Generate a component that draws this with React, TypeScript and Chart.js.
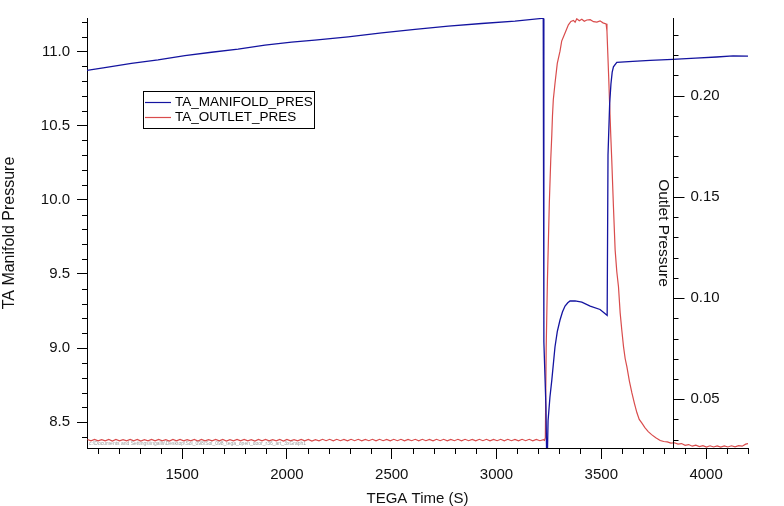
import React, { useEffect, useRef } from 'react';
import { Chart, registerables } from 'chart.js';

Chart.register(...registerables);

const FONT = '"Liberation Sans", Arial, Helvetica, sans-serif';
const BLUE = '#1414a0';
const RED = '#d94c4c';

const blueLabel = 'TA_MANIFOLD_PRES';
const redLabel = 'TA_OUTLET_PRES';
const xTitle = 'TEGA Time (S)';
const yTitle = 'TA Manifold Pressure';
const y2Title = 'Outlet Pressure';
const fileNote = 'c:\\Documents and Settings\\ingalls\\Desktop\\Sol_098\\Sol_098_tega_open_door_r36_art_3xGraph1';

const xMajorTicks = [1500, 2000, 2500, 3000, 3500, 4000];
const yMajorTicks = [8.5, 9.0, 9.5, 10.0, 10.5, 11.0];
const y2MajorTicks = [0.05, 0.1, 0.15, 0.2];

const X_MIN = 1046;
const X_MAX = 4200;
const Y_MIN = 8.326;
const Y_MAX = 11.225;
const Y2_MIN = 0.0259;
const Y2_MAX = 0.2384;
const RIGHT_AXIS_AT = 3840;

const blueTime = [
  1046, 1131, 1258, 1385, 1513, 1640, 1767, 1895, 2022, 2133, 2292, 2452, 2611, 2770, 2929, 3088, 3216, 3223,
  3226, 3236, 3240, 3243, 3246, 3255, 3264, 3279, 3290, 3303, 3315, 3327, 3340, 3351, 3375, 3407, 3447, 3494,
  3523, 3528, 3532, 3540, 3546, 3552, 3558, 3574, 3650, 3733, 3840, 3950, 4050, 4129, 4200,
];
const blueValue = [
  10.872, 10.89, 10.919, 10.942, 10.971, 10.994, 11.015, 11.042, 11.063, 11.076, 11.098, 11.125, 11.148, 11.17,
  11.188, 11.204, 11.222, 11.222, 9.04, 8.6, 8.2, 8.3, 8.51, 8.67, 8.785, 9.007, 9.11, 9.189, 9.245, 9.283,
  9.305, 9.317, 9.318, 9.31, 9.283, 9.26, 9.226, 9.22, 10.3, 10.65, 10.78, 10.86, 10.896, 10.926, 10.933,
  10.939, 10.946, 10.955, 10.962, 10.97, 10.968,
];

const redTime = [
  1048, 1065, 1082, 1099, 1116, 1133, 1150, 1167, 1184, 1201, 1218, 1235, 1252, 1269, 1286, 1303, 1320, 1337,
  1354, 1371, 1388, 1405, 1422, 1439, 1456, 1473, 1490, 1507, 1524, 1541, 1558, 1575, 1592, 1609, 1626, 1643,
  1660, 1677, 1694, 1711, 1728, 1745, 1762, 1779, 1796, 1813, 1830, 1847, 1864, 1881, 1898, 1915, 1932, 1949,
  1966, 1983, 2000, 2017, 2034, 2051, 2068, 2085, 2102, 2119, 2136, 2153, 2170, 2187, 2204, 2221, 2238, 2255,
  2272, 2289, 2306, 2323, 2340, 2357, 2374, 2391, 2408, 2425, 2442, 2459, 2476, 2493, 2510, 2527, 2544, 2561,
  2578, 2595, 2612, 2629, 2646, 2663, 2680, 2697, 2714, 2731, 2748, 2765, 2782, 2799, 2816, 2833, 2850, 2867,
  2884, 2901, 2918, 2935, 2952, 2969, 2986, 3003, 3020, 3037, 3054, 3071, 3088, 3105, 3122, 3139, 3156, 3173,
  3190, 3207, 3224,
  3229, 3233, 3237, 3243, 3252, 3259, 3264, 3267, 3271, 3279, 3290, 3303, 3311, 3327, 3343, 3355, 3367, 3375,
  3383, 3395, 3407, 3419, 3431, 3447, 3463, 3479, 3494, 3508, 3523, 3527, 3531, 3535, 3539, 3545, 3550, 3558,
  3566, 3574, 3582, 3590, 3598, 3606, 3614, 3622, 3634, 3646, 3658, 3670, 3681, 3693, 3708, 3724, 3740, 3760,
  3781,
  3798, 3815, 3832, 3849, 3866, 3883, 3900, 3917, 3934, 3951, 3968, 3985, 4002, 4019, 4036, 4053, 4070, 4087,
  4104, 4121, 4138, 4155, 4172, 4189, 4200,
];
const redValue = [
  0.0301, 0.0294, 0.0301, 0.0294, 0.0300, 0.0294, 0.0301, 0.0293, 0.0301, 0.0294, 0.0300, 0.0294, 0.0301, 0.0294,
  0.0301, 0.0293, 0.0300, 0.0294, 0.0301, 0.0294, 0.0301, 0.0294, 0.0300, 0.0293, 0.0301, 0.0294, 0.0301, 0.0294,
  0.0300, 0.0294, 0.0301, 0.0293, 0.0301, 0.0294, 0.0300, 0.0294, 0.0301, 0.0294, 0.0301, 0.0293, 0.0300, 0.0294,
  0.0301, 0.0294, 0.0301, 0.0294, 0.0300, 0.0293, 0.0301, 0.0294, 0.0301, 0.0294, 0.0300, 0.0294, 0.0301, 0.0293,
  0.0301, 0.0294, 0.0300, 0.0294, 0.0301, 0.0294, 0.0301, 0.0293, 0.0300, 0.0294, 0.0302, 0.0295, 0.0302, 0.0294,
  0.0302, 0.0295, 0.0301, 0.0294, 0.0302, 0.0295, 0.0302, 0.0294, 0.0301, 0.0295, 0.0302, 0.0294, 0.0302, 0.0295,
  0.0301, 0.0294, 0.0302, 0.0295, 0.0302, 0.0294, 0.0301, 0.0295, 0.0302, 0.0294, 0.0302, 0.0295, 0.0301, 0.0294,
  0.0302, 0.0295, 0.0302, 0.0294, 0.0301, 0.0295, 0.0302, 0.0294, 0.0302, 0.0295, 0.0301, 0.0294, 0.0302, 0.0295,
  0.0302, 0.0294, 0.0301, 0.0295, 0.0302, 0.0294, 0.0302, 0.0295, 0.0301, 0.0294, 0.0302, 0.0295, 0.0302, 0.0294,
  0.0301, 0.0295, 0.0300,
  0.0297, 0.031, 0.075, 0.109, 0.147, 0.169, 0.181, 0.19, 0.198, 0.206, 0.216, 0.222, 0.227, 0.231, 0.235, 0.2367,
  0.2372, 0.2363, 0.238, 0.237, 0.2378, 0.2368, 0.2374, 0.2376, 0.2366, 0.2364, 0.237, 0.236, 0.2355, 0.232, 0.221,
  0.21, 0.198, 0.181, 0.168, 0.145, 0.1238, 0.113, 0.1056, 0.0927, 0.084, 0.076, 0.07, 0.0661, 0.059, 0.0531,
  0.048, 0.0433, 0.04, 0.0383, 0.036, 0.034, 0.0325, 0.031, 0.0296,
  0.0291, 0.0289, 0.0283, 0.0285, 0.0278, 0.0281, 0.0272, 0.0276, 0.0268, 0.0273, 0.0266, 0.0271, 0.0264, 0.027,
  0.0264, 0.0269, 0.0263, 0.0269, 0.0264, 0.027, 0.0265, 0.0271, 0.0268, 0.0278, 0.0281,
];

const overlayPlugin = {
  id: 'overlay',
  afterDraw(chart: any) {
    const { ctx, chartArea: a, scales } = chart;
    const xs = scales.x;
    const ys = scales.y;
    const y2 = scales.y2;
    const crisp = (v: number) => Math.round(v) + 0.5;
    ctx.save();
    ctx.strokeStyle = '#000';
    ctx.lineWidth = 1;
    ctx.beginPath();
    // x minor ticks
    for (let i = 11; i <= 42; i++) {
      if (i % 5 === 0) continue;
      const px = crisp(xs.getPixelForValue(i * 100));
      ctx.moveTo(px, a.bottom);
      ctx.lineTo(px, a.bottom + 6);
    }
    // left y minor ticks
    for (let i = 84; i <= 112; i++) {
      if (i % 5 === 0) continue;
      const py = crisp(ys.getPixelForValue(i / 10));
      ctx.moveTo(a.left, py);
      ctx.lineTo(a.left - 5, py);
    }
    // right axis
    const ax = crisp(xs.getPixelForValue(RIGHT_AXIS_AT));
    ctx.moveTo(ax, a.top);
    ctx.lineTo(ax, a.bottom);
    for (let i = 3; i <= 23; i++) {
      const py = crisp(y2.getPixelForValue(i / 100));
      const len = i % 5 === 0 ? 11 : 5;
      ctx.moveTo(ax, py);
      ctx.lineTo(ax + len, py);
    }
    ctx.stroke();

    ctx.fillStyle = '#111';
    ctx.font = `15px ${FONT}`;
    ctx.textAlign = 'left';
    ctx.textBaseline = 'middle';
    for (const v of y2MajorTicks) {
      ctx.fillText(v.toFixed(2), ax + 17, y2.getPixelForValue(v));
    }
    ctx.save();
    ctx.font = `15.5px ${FONT}`;
    ctx.translate(ax - 10, (a.top + a.bottom) / 2);
    ctx.rotate(Math.PI / 2);
    ctx.textAlign = 'center';
    ctx.fillText(y2Title, 0, 0);
    ctx.restore();

    // file note
    ctx.fillStyle = '#a0a0a0';
    ctx.font = `5px ${FONT}`;
    ctx.textAlign = 'left';
    ctx.fillText(fileNote, a.left + 2, a.bottom - 4);

    // legend
    const lx = 143;
    const ly = 91;
    const lw = 171;
    const lh = 37;
    ctx.fillStyle = '#fff';
    ctx.fillRect(lx, ly, lw, lh);
    ctx.strokeStyle = '#000';
    ctx.strokeRect(lx + 0.5, ly + 0.5, lw, lh);
    const items = chart.data.datasets;
    ctx.font = `13.5px ${FONT}`;
    ctx.textBaseline = 'middle';
    items.forEach((ds: any, i: number) => {
      const yy = ly + 11.5 + i * 15;
      ctx.strokeStyle = ds.borderColor;
      ctx.lineWidth = 1.2;
      ctx.beginPath();
      ctx.moveTo(lx + 2, yy);
      ctx.lineTo(lx + 28, yy);
      ctx.stroke();
      ctx.fillStyle = '#000';
      ctx.fillText(ds.label, lx + 32, yy);
    });
    ctx.restore();
  },
};

export default function App() {
  const ref = useRef<HTMLCanvasElement>(null);
  useEffect(() => {
    const canvas = ref.current;
    if (!canvas) return;
    const tickFont = { family: FONT, size: 15 };
    const chart = new Chart(canvas, {
      type: 'line',
      data: {
        datasets: [
          {
            label: blueLabel,
            data: blueTime.map((t, i) => ({ x: t, y: blueValue[i] })),
            borderColor: BLUE,
            backgroundColor: BLUE,
            borderWidth: 1.3,
            pointRadius: 0,
            tension: 0,
            yAxisID: 'y',
          },
          {
            label: redLabel,
            data: redTime.map((t, i) => ({ x: t, y: redValue[i] })),
            borderColor: RED,
            backgroundColor: RED,
            borderWidth: 1.2,
            pointRadius: 0,
            tension: 0,
            yAxisID: 'y2',
          },
        ],
      },
      options: {
        responsive: false,
        animation: false,
        events: [],
        layout: { padding: { left: 0, top: 18, right: 36, bottom: 0 }, autoPadding: false },
        plugins: { legend: { display: false }, tooltip: { enabled: false } },
        scales: {
          x: {
            type: 'linear',
            position: 'bottom',
            min: X_MIN,
            max: X_MAX,
            afterBuildTicks: (s: any) => {
              s.ticks = xMajorTicks.map((v) => ({ value: v }));
            },
            afterFit: (s: any) => {
              s.height = 58;
            },
            grid: { display: true, drawOnChartArea: false, drawTicks: true, tickLength: 11, color: '#000', lineWidth: 1 },
            border: { display: true, color: '#000', width: 1 },
            ticks: {
              padding: 7,
              color: '#111',
              font: tickFont,
              maxRotation: 0,
              autoSkip: false,
              callback: (v: any) => String(v),
            },
            title: { display: true, text: xTitle, color: '#111', font: { family: FONT, size: 15, lineHeight: 1 }, padding: 0 },
          },
          y: {
            type: 'linear',
            position: 'left',
            min: Y_MIN,
            max: Y_MAX,
            afterBuildTicks: (s: any) => {
              s.ticks = yMajorTicks.map((v) => ({ value: v }));
            },
            afterFit: (s: any) => {
              s.width = 87;
            },
            grid: { display: true, drawOnChartArea: false, drawTicks: true, tickLength: 10, color: '#000', lineWidth: 1 },
            border: { display: true, color: '#000', width: 1 },
            ticks: {
              padding: 7,
              color: '#111',
              font: tickFont,
              autoSkip: false,
              callback: (v: any) => Number(v).toFixed(1),
            },
            title: {
              display: true,
              text: yTitle,
              color: '#111',
              font: { family: FONT, size: 16, lineHeight: 1 },
              padding: { top: 1.5, bottom: 0 },
            },
          },
          y2: {
            type: 'linear',
            display: false,
            min: Y2_MIN,
            max: Y2_MAX,
          },
        },
      },
      plugins: [overlayPlugin],
    } as any);
    return () => chart.destroy();
  }, []);
  return (
    <div style={{ position: 'absolute', left: 0, top: 0, width: 784, height: 506, background: '#fff' }}>
      <canvas ref={ref} width={784} height={506} style={{ display: 'block', width: 784, height: 506 }} />
    </div>
  );
}
